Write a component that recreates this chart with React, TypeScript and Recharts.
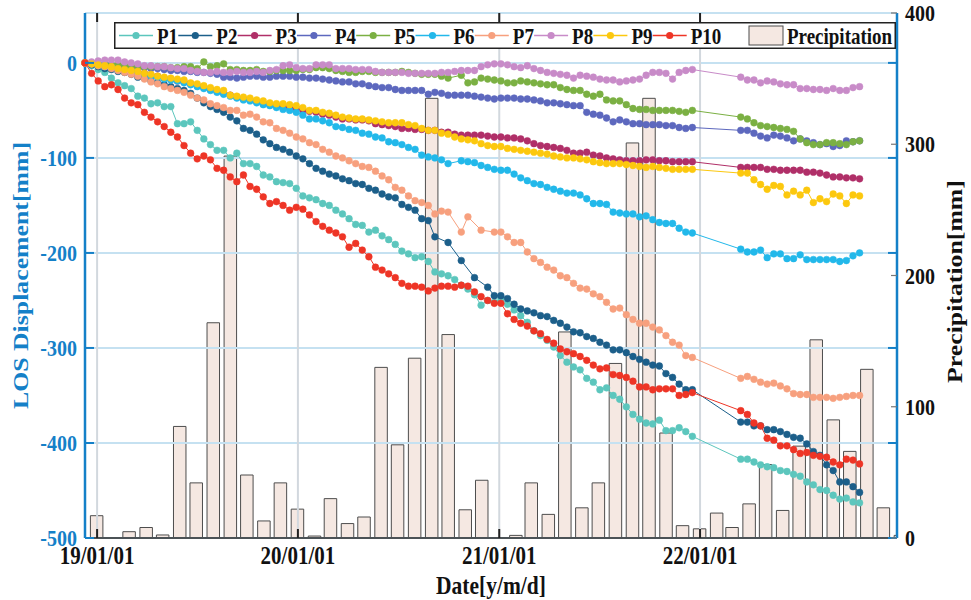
import React from 'react';
import { ComposedChart, Line, Bar, XAxis, YAxis, CartesianGrid, Legend } from 'recharts';

// ---------------- data ----------------
const DATES = [
  '2018-12-10','2018-12-22','2019-01-03','2019-01-15','2019-01-27','2019-02-08','2019-02-20','2019-03-04','2019-03-16','2019-03-28',
  '2019-04-09','2019-04-21','2019-05-03','2019-05-15','2019-05-27','2019-06-08','2019-06-20','2019-07-02','2019-07-14','2019-07-26',
  '2019-08-07','2019-08-19','2019-08-31','2019-09-12','2019-09-24','2019-10-06','2019-10-18','2019-10-30','2019-11-11','2019-11-23',
  '2019-12-05','2019-12-17','2019-12-29','2020-01-10','2020-01-22','2020-02-03','2020-02-15','2020-02-27','2020-03-10','2020-03-22',
  '2020-04-03','2020-04-15','2020-04-27','2020-05-09','2020-05-21','2020-06-02','2020-06-14','2020-06-26','2020-07-08','2020-07-20',
  '2020-08-01','2020-08-13','2020-08-25','2020-09-06','2020-09-18','2020-09-30','2020-10-12','2020-10-24','2020-11-05','2020-11-17',
  '2020-11-29','2020-12-11','2020-12-23','2021-01-04','2021-01-16','2021-01-28','2021-02-09','2021-02-21','2021-03-05','2021-03-17',
  '2021-03-29','2021-04-10','2021-04-22','2021-05-04','2021-05-16','2021-05-28','2021-06-09','2021-06-21','2021-07-03','2021-07-15',
  '2021-07-27','2021-08-08','2021-08-20','2021-09-01','2021-09-13','2021-09-25','2021-10-07','2021-10-19','2021-10-31','2021-11-12',
  '2021-11-24','2021-12-06','2021-12-18',
  '2022-03-16','2022-03-28','2022-04-09','2022-04-21','2022-05-03','2022-05-15','2022-05-27','2022-06-08','2022-06-20','2022-07-02',
  '2022-07-14','2022-07-26','2022-08-07','2022-08-19','2022-08-31','2022-09-12','2022-09-24','2022-10-06','2022-10-18',
];

const P1 = [
  0,-3,-7,-10,-16,-21,-24,-27,-35,-37,
  -43,-42,-46,-46,-64,-64,-62,-71,-80,-86,
  -92,-92,-100,-95,-106,-106,-109,-118,-120,-125,
  -126,-127,-132,-140,-142,-144,-148,-150,-155,-159,
  -164,-170,-171,-178,-176,-182,-186,-191,-198,-201,
  -205,-204,-209,-220,-222,-224,-228,-234,-238,-244,
  -255,-250,-252,-248,-254,-260,-266,-273,-282,-287,
  -292,-299,-308,-315,-320,-323,-332,-336,-344,-342,
  -350,-354,-362,-370,-375,-379,-380,-376,-387,-387,
  -384,-388,-393,
  -417,-417,-420,-423,-425,-426,-429,-430,-433,-435,-441,-444,-449,-450,-455,-459,-458,-462,-463,
];
const P2 = [
  0,-2,-4,-6,-7,-9,-10,-12,-15,-16,
  -19,-21,-23,-25,-27,-29,-32,-37,-42,-46,
  -49,-52,-57,-61,-69,-71,-75,-81,-85,-89,
  -91,-94,-98,-101,-106,-111,-114,-117,-119,-122,
  -124,-127,-128,-132,-134,-138,-141,-142,-149,-152,
  -155,-164,-166,-183,null,-189,null,-208,null,-226,
  null,-236,-245,-245,-248,-254,-259,-261,-263,-266,
  -267,-271,-274,-278,-283,-284,-288,-290,-294,-297,
  -302,-302,-305,-309,-312,-315,-318,-319,-327,-331,
  -338,-344,-344,
  -378,-378,-382,-382,-386,-386,-388,-391,-394,-395,-401,-409,-413,-423,-429,-441,-441,-446,-452,
];
const P3 = [
  0,-1,-2,-3,-5,-6,-7,-9,-10,-11,
  -13,-14,-16,-17,-19,-20,-22,-24,-26,-28,
  -30,-32,-34,-36,-38,-39,-41,-43,-44,-45,
  -46,-47,-48,-50,-51,-52,-54,-55,-57,-59,
  -59,-60,-60,-61,-64,-65,-66,-67,-69,-69,
  -70,-70,-71,-71,-73,-73,-75,-76,-76,-76,
  -76,-77,-78,-78,-79,-79,-80,-82,-85,-87,
  -88,-89,-90,-92,-95,-95,-94,-97,-98,-100,
  -101,-102,-103,-103,-103,-102,-102,-103,-103,-104,
  -104,-104,-104,
  -110,-110,-110,-110,-112,-112,-113,-113,-113,-113,-115,-115,-116,-118,-120,-120,-121,-121,-122,
];
const P4 = [
  0,-1,-1,-2,-2,-3,-4,-4,-5,-5,
  -6,-6,-7,-8,-8,-9,-9,-10,-10,-11,
  -12,-15,-15,-16,-15,-14,-14,-15,-15,-14,
  -14,-14,-15,-15,-16,-16,-17,-18,-19,-20,
  -20,-22,-22,-24,-25,-26,-26,-28,-29,-29,
  -29,-29,-33,-31,-32,-34,-34,-34,-34,-35,
  -36,-37,-38,-37,-37,-37,-38,-38,-39,-40,
  -42,-42,-43,-44,-45,-45,-52,-54,-55,-58,
  -62,-60,-62,-64,-64,-65,-65,-65,-66,-66,
  -68,-69,-68,
  -71,-71,-74,-77,-79,-76,-77,-79,-82,-80,-82,-84,-86,-85,-88,-87,-82,-83,-82,
];
const P5 = [
  0,0,-1,-1,-2,-2,-3,-3,-4,-4,
  -4,-4,-4,-5,-5,-4,-4,-6,1,-4,
  -3,-1,-7,-7,-8,-8,-7,-9,-9,-8,
  -8,-8,-8,-7,-7,-5,-5,-6,-8,-9,
  -10,-10,-9,-9,-10,-10,-10,-10,-9,-10,
  -11,-12,-12,-12,-14,-16,null,-13,-21,-20,
  -16,-17,-18,-19,-21,-21,-19,-20,-21,-22,
  -23,-23,-26,-28,-29,-29,-33,-35,-33,-39,
  -40,-40,-44,-48,-49,-49,-50,-50,-50,-50,
  -51,-52,-50,
  -57,-59,-63,-66,-67,-68,-69,-70,-72,-80,-84,-86,-86,-84,-84,-85,-86,-83,-82,
];
const P6 = [
  0,-1,-2,-4,-5,-7,-8,-9,-11,-12,
  -14,-15,-17,-18,-19,-21,-23,-25,-27,-29,
  -31,-33,-35,-37,-39,-40,-42,-44,-45,-47,
  -49,-50,-52,-55,-59,-59,-61,-63,-67,-68,
  -70,-71,-74,-75,-78,-79,-83,-84,-86,-89,
  -91,-97,-99,-100,-102,-106,null,-103,-104,-105,
  -108,-110,-112,-113,-113,-117,-121,-124,-127,-128,
  -131,-133,-135,-137,-137,-139,-143,-148,-148,-149,
  -157,-158,-159,-159,-162,-161,-165,-168,-169,-169,
  -174,-178,-179,
  -196,-199,-199,-197,-205,-201,-201,-206,-206,-202,-207,-207,-207,-207,-207,-209,-208,-203,-200,
];
const P7 = [
  0,-1,-3,-4,-6,-8,-10,-12,-14,-17,
  -20,-22,-25,-27,-29,-31,-34,-37,-39,-43,
  -45,-47,-50,-50,-55,-54,-57,-62,-63,-69,
  -71,-74,-78,-80,-84,-86,-91,-94,-98,-100,
  -103,-106,-109,-110,-114,-119,-123,-131,-134,-140,
  -145,-147,-150,-159,-156,-157,null,-178,-162,null,
  -176,null,-178,-178,-183,-189,-189,-199,-206,-210,
  -215,-218,-224,-226,-232,-237,-238,-243,-246,-252,
  -259,-258,-265,-270,-274,-274,-278,-281,-287,-294,
  -297,-308,-310,
  -332,-330,-333,-336,-338,-337,-340,-343,-348,-349,-349,-352,-352,-352,-353,-352,-351,-350,-350,
];
const P8 = [
  0,1,2,3,3,3,1,0,-1,-3,
  -3,-4,-4,-5,-6,-6,-8,-9,-10,-10,
  -9,-10,-10,-9,-10,-10,-9,-10,-8,-7,
  -3,-2,-5,-6,-6,-2,-2,-2,-6,-6,
  -6,-7,-7,-7,-9,-10,-10,-10,-10,-11,
  -11,-11,-11,-11,-10,-10,-9,-8,-8,-8,
  -4,-2,-1,-1,-2,-4,-5,-3,-6,-8,
  -10,-11,-12,-13,-16,-13,-14,-15,-17,-18,
  -18,-20,-19,-18,-17,-13,-10,-10,-11,-17,
  -10,-8,-7,
  -15,-18,-18,-21,-19,-20,-22,-23,-23,-27,-27,-28,-28,-29,-27,-29,-29,-26,-25,
];
const P9 = [
  0,-1,-2,-3,-4,-6,-7,-8,-9,-11,
  -12,-14,-15,-16,-17,-18,-21,-22,-24,-26,
  -28,-29,-34,-35,-36,-37,-39,-40,-42,-43,
  -43,-44,-45,-47,-50,-50,-52,-53,-55,-57,
  -58,-59,-59,-60,-61,-62,-63,-63,-63,-65,
  -66,-69,-71,-71,-74,-75,-78,-80,-81,-82,
  -85,-87,-88,-88,-90,-91,-92,-93,-94,-95,
  -96,-98,-99,-100,-100,-101,-102,-104,-105,-106,
  -106,-106,-107,-108,-109,-110,-109,-110,-111,-112,
  -112,-112,-112,
  -116,-116,-123,-128,-133,-129,-130,-139,-135,-139,-134,-147,-143,-146,-138,-140,-148,-139,-140,
];
const P10 = [
  0,-11,-19,-25,-23,-28,-37,-42,-44,-52,
  -57,-62,-67,-73,-78,-87,-95,-101,-98,-102,
  -111,-113,-120,-125,-118,-130,-133,-141,-148,-146,
  -150,-155,-152,-154,-160,-167,-172,-176,-179,-183,
  -194,-190,-197,-204,-215,-218,-222,-226,-232,-235,
  -235,-236,-240,-237,-235,-235,-236,-234,-235,-241,
  -246,-250,-253,-253,-264,-270,-274,-277,-282,-285,
  -291,-295,-301,-304,-306,-309,-313,-318,-322,-321,
  -328,-329,-331,-335,-341,-341,-344,-343,-343,-343,
  -350,-349,-347,
  -366,-370,-379,-382,-395,-397,-403,-403,-407,-411,-410,-413,-414,-415,-420,-423,-417,-418,-422,
];

const MONTHS = [
  '2019-01-01','2019-02-01','2019-03-01','2019-04-01','2019-05-01','2019-06-01','2019-07-01','2019-08-01','2019-09-01','2019-10-01','2019-11-01','2019-12-01',
  '2020-01-01','2020-02-01','2020-03-01','2020-04-01','2020-05-01','2020-06-01','2020-07-01','2020-08-01','2020-09-01','2020-10-01','2020-11-01','2020-12-01',
  '2021-01-01','2021-02-01','2021-03-01','2021-04-01','2021-05-01','2021-06-01','2021-07-01','2021-08-01','2021-09-01','2021-10-01','2021-11-01','2021-12-01',
  '2022-01-01','2022-02-01','2022-03-01','2022-04-01','2022-05-01','2022-06-01','2022-07-01','2022-08-01','2022-09-01','2022-10-01','2022-11-01','2022-12-01',
  '2023-01-01',
];
const PRECIP = [
  17,0,4.8,8,2.3,85,42,164,291,48,13,42,
  22,1.5,30,11,16,130,71,137,335,155,21.5,44,
  0,2,42,18,157,23,42,133,301,335,80,9.4,
  7,19,8,26,56,21,70,151,90,66,128.5,23,
  2,
];

const SERIES_NAMES = ['P1','P2','P3','P4','P5','P6','P7','P8','P9','P10'];
const SERIES_VALUES = [P1,P2,P3,P4,P5,P6,P7,P8,P9,P10];
const SERIES_COLORS = ['#5cc6bd','#1c5f8a','#b02f68','#5d68be','#7bb043','#22b8ea','#f7a07e','#c88bc8','#fcc80e','#ee3526'];

const X_TICKS = ['2019-01-01','2020-01-01','2021-01-01','2022-01-01'];
const X_TICK_LABELS = ['19/01/01','20/01/01','21/01/01','22/01/01'];
const X_RANGE = ['2018-12-10','2022-12-25'];
const Y_LEFT_TICKS = [-500,-400,-300,-200,-100,0];
const Y_LEFT_DOMAIN = [-500, 52.5];
const Y_RIGHT_TICKS = [0,100,200,300,400];
const Y_RIGHT_DOMAIN = [0, 400];

// ---------------- derived tables ----------------
const LINE_ROWS = DATES.map((d, i) => {
  const row: any = { t: Date.parse(d) };
  SERIES_NAMES.forEach((n, j) => { row[n] = SERIES_VALUES[j][i]; });
  return row;
});
const PRECIP_ROWS = MONTHS.map((m, i) => ({ t: Date.parse(m), precip: PRECIP[i] }));
const X_TICK_VALUES = X_TICKS.map((d) => Date.parse(d));
const X_DOMAIN = X_RANGE.map((d) => Date.parse(d));

// ---------------- layout / style ----------------
const W = 971, H = 600;
const M_TOP = 13, LEFT_W = 85, RIGHT_W = 74, X_H = 62;
const PLOT_L = LEFT_W, PLOT_R = W - RIGHT_W, PLOT_T = M_TOP, PLOT_B = H - X_H;
const FONT = "'Liberation Serif', 'Times New Roman', Times, serif";
const BLUE = '#1480c8';
const STRETCH = 1.2;
const BAR_FILL = '#f5e8e2';
const BAR_STROKE = '#4d4d4d';
const TITLE_SIZE = 21.5;

function SText(props: any) {
  const { x, y, anchor, baseline, size, fill, children, rotate } = props;
  const tr = rotate
    ? `translate(${x},${y}) rotate(-90) scale(${STRETCH},1)`
    : `translate(${x},${y}) scale(1,${STRETCH})`;
  return (
    <text transform={tr} x={0} y={0} textAnchor={anchor} dominantBaseline={baseline}
      fontSize={size} fontWeight="bold" fontFamily={FONT} fill={fill}>{children}</text>
  );
}

const LeftTick = (props: any) => {
  const { x, y, payload } = props;
  return (
    <g>
      <line x1={PLOT_L} x2={PLOT_L + 9} y1={y} y2={y} stroke={BLUE} strokeWidth={2} />
      <line x1={PLOT_R - 9} x2={PLOT_R} y1={y} y2={y} stroke={BLUE} strokeWidth={2} />
      <SText x={x} y={y} anchor="end" baseline="central" size={20} fill={BLUE}>{payload.value}</SText>
    </g>
  );
};

const RightTick = (props: any) => {
  const { x, y, payload } = props;
  return (
    <g>
      <line x1={PLOT_R - 6} x2={PLOT_R} y1={y} y2={y} stroke="#777" strokeWidth={1.2} />
      <SText x={x} y={y} anchor="start" baseline="central" size={20} fill="#111">{payload.value}</SText>
    </g>
  );
};

const BottomTick = (props: any) => {
  const { x, y, payload } = props;
  const idx = X_TICK_VALUES.indexOf(payload.value);
  return (
    <g>
      <line x1={x} x2={x} y1={PLOT_B} y2={PLOT_B - 9} stroke="#222" strokeWidth={2} />
      <line x1={x} x2={x} y1={PLOT_T} y2={PLOT_T + 9} stroke="#222" strokeWidth={2} />
      <SText x={x} y={y} anchor="middle" baseline="hanging" size={21} fill="#111">
        {idx >= 0 ? X_TICK_LABELS[idx] : ''}
      </SText>
    </g>
  );
};

const leftTitle = () => (
  <SText rotate x={21} y={(PLOT_T + PLOT_B) / 2} anchor="middle" baseline="central" size={TITLE_SIZE} fill={BLUE}>
    LOS Displacement[mm]
  </SText>
);
const rightTitle = () => (
  <SText rotate x={955} y={(PLOT_T + PLOT_B) / 2 + 6} anchor="middle" baseline="central" size={TITLE_SIZE} fill="#111">
    Precipitation[mm]
  </SText>
);
const bottomTitle = () => (
  <SText x={(PLOT_L + PLOT_R) / 2} y={585} anchor="middle" baseline="central" size={TITLE_SIZE} fill="#111">
    Date[y/m/d]
  </SText>
);

const LEG_W = 782, LEG_BOX_H = 27, LEG_PAD = 5, LEG_PITCH = 59.3;
const LEG_SVG_H = LEG_BOX_H + 2 * LEG_PAD;
const LEG_MID = LEG_PAD + LEG_BOX_H / 2;
const renderLegend = () => (
  <svg width={LEG_W} height={LEG_SVG_H} style={{ display: 'block', overflow: 'visible' }}>
    <rect x={0.75} y={LEG_PAD + 0.75} width={LEG_W - 1.5} height={LEG_BOX_H - 1.5} fill="#fff" stroke="#222" strokeWidth={1.5} />
    {SERIES_NAMES.map((n, i) => {
      const x0 = 5 + i * LEG_PITCH;
      return (
        <g key={n}>
          <line x1={x0} x2={x0 + 34} y1={LEG_MID} y2={LEG_MID} stroke={SERIES_COLORS[i]} strokeWidth={1.5} />
          <circle cx={x0 + 17} cy={LEG_MID} r={3.6} fill={SERIES_COLORS[i]} />
          <SText x={x0 + 38} y={LEG_MID + 1} anchor="start" baseline="central" size={19} fill="#111">{n}</SText>
        </g>
      );
    })}
    <rect x={5 + 10 * LEG_PITCH + 37} y={LEG_PAD + 4} width={34} height={LEG_BOX_H - 8} fill={BAR_FILL} stroke={BAR_STROKE} strokeWidth={1} />
    <SText x={5 + 10 * LEG_PITCH + 75} y={LEG_MID + 1} anchor="start" baseline="central" size={19} fill="#111">Precipitation</SText>
  </svg>
);

export default function App() {
  const margin = { top: M_TOP, right: 0, bottom: 0, left: 0 };
  return (
    <div style={{ position: 'absolute', left: 0, top: 0, width: W, height: H, background: '#fff' }}>
      <div style={{ position: 'absolute', left: 0, top: 0 }}>
        <ComposedChart width={W} height={H} data={PRECIP_ROWS} margin={margin}>
          <XAxis dataKey="t" type="number" domain={X_DOMAIN} allowDataOverflow ticks={X_TICK_VALUES}
            height={X_H} tick={false} tickLine={false} axisLine={false} />
          <YAxis yAxisId="left" domain={Y_LEFT_DOMAIN} ticks={Y_LEFT_TICKS} width={LEFT_W}
            tick={false} tickLine={false} axisLine={false} allowDataOverflow />
          <YAxis yAxisId="right" orientation="right" domain={Y_RIGHT_DOMAIN} ticks={Y_RIGHT_TICKS}
            width={RIGHT_W} tick={false} tickLine={false} axisLine={false} allowDataOverflow />
          <Bar yAxisId="right" dataKey="precip" barSize={12.5} fill={BAR_FILL} stroke={BAR_STROKE}
            strokeWidth={1} isAnimationActive={false} />
        </ComposedChart>
      </div>
      <div style={{ position: 'absolute', left: 0, top: 0 }}>
        <ComposedChart width={W} height={H} data={LINE_ROWS} margin={margin}>
          <CartesianGrid yAxisId="left" vertical={false} stroke="#c5e1f1" strokeWidth={2} />
          <CartesianGrid yAxisId="left" horizontal={false} stroke="#d2d8de" strokeWidth={2} />
          <XAxis dataKey="t" type="number" domain={X_DOMAIN} ticks={X_TICK_VALUES} height={X_H}
            tick={<BottomTick />} tickLine={false} tickSize={0} tickMargin={8}
            axisLine={{ stroke: '#222', strokeWidth: 1.5 }} label={bottomTitle} />
          <XAxis xAxisId="top" orientation="top" type="number" domain={X_DOMAIN} height={0}
            tick={false} tickLine={false} axisLine={{ stroke: '#222', strokeWidth: 1.5 }} />
          <YAxis yAxisId="left" domain={Y_LEFT_DOMAIN} ticks={Y_LEFT_TICKS} width={LEFT_W}
            tick={<LeftTick />} tickLine={false} tickSize={0} tickMargin={8} allowDataOverflow
            axisLine={{ stroke: BLUE, strokeWidth: 2.5 }} label={leftTitle} />
          <YAxis yAxisId="right" orientation="right" domain={Y_RIGHT_DOMAIN} ticks={Y_RIGHT_TICKS}
            width={RIGHT_W} tick={<RightTick />} tickLine={false} tickSize={0} tickMargin={8} allowDataOverflow
            axisLine={{ stroke: BLUE, strokeWidth: 2.5 }} label={rightTitle} />
          <Legend layout="horizontal" verticalAlign="middle" align="center" content={renderLegend}
            wrapperStyle={{ position: 'absolute', left: 114, top: 22 - LEG_PAD, width: LEG_W, height: LEG_SVG_H }} />
          {SERIES_NAMES.map((n, i) => (
            <Line key={n} yAxisId="left" dataKey={n} stroke={SERIES_COLORS[i]} strokeWidth={1}
              connectNulls isAnimationActive={false} activeDot={false}
              dot={{ r: 3.4, fill: SERIES_COLORS[i], stroke: SERIES_COLORS[i], strokeWidth: 0.5 }} />
          ))}
        </ComposedChart>
      </div>
    </div>
  );
}
